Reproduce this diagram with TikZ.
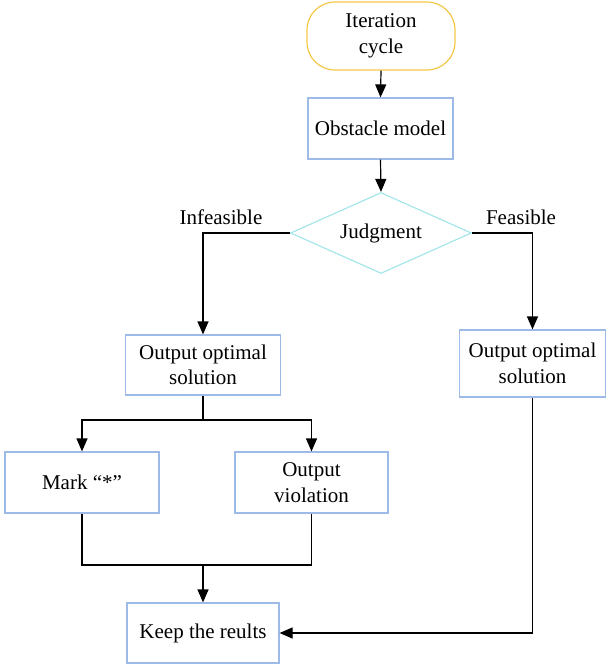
\documentclass[tikz,border=0pt]{standalone}
\usepackage{fontspec}
\setmainfont{Liberation Serif}
\usetikzlibrary{shapes.geometric,arrows.meta}
\definecolor{boxblue}{HTML}{9DBBE6}
\definecolor{diacyan}{HTML}{A6E6EA}
\definecolor{pillor}{HTML}{F4C646}
\tikzset{
  every node/.style={font=\fontsize{21}{25.5}\selectfont, align=center, inner sep=0pt},
  boxnode/.style={draw=boxblue, line width=1.2pt, rectangle},
  arr/.style={-{Triangle[length=13pt,width=11pt]}, line width=1.2pt, black},
  ln/.style={line width=1.2pt, black},
}
\begin{document}
\begin{tikzpicture}[x=1pt,y=-1pt]
\useasboundingbox (0,0) rectangle (607,667);
\node[draw=pillor, line width=1.2pt, rounded corners=28pt, minimum width=148pt, minimum height=68pt] (iter) at (381,36) {Iteration\\cycle};
\node[boxnode, minimum width=145pt, minimum height=61pt] (obst) at (380.5,128.5) {Obstacle model};
\node[draw=diacyan, line width=1.2pt, diamond, aspect=2.2, minimum width=181pt, minimum height=81pt] (judge) at (381,233) {Judgment};
\node (inf) at (221,217) {Infeasible};
\node (fea) at (521,217) {Feasible};
\node[boxnode, minimum width=155pt, minimum height=60pt] (outL) at (203,365) {Output optimal\\solution};
\node[boxnode, minimum width=146pt, minimum height=67pt] (outR) at (532.5,363.5) {Output optimal\\solution};
\node[boxnode, minimum width=154pt, minimum height=61pt] (mark) at (82,482.5) {Mark “*”};
\node[boxnode, minimum width=153pt, minimum height=61pt] (viol) at (311.5,482.5) {Output\\violation};
\node[boxnode, minimum width=152pt, minimum height=60pt] (keep) at (203,633) {Keep the reults};
\coordinate (split) at (203,420);
\coordinate (join) at (203,565);
\draw[arr] (iter.south) -- (obst.north);
\draw[arr] (obst.south) -- (judge.north);
\draw[arr] (judge.west) -| (outL.north);
\draw[arr] (judge.east) -| (outR.north);
\draw[ln] (outL.south) -- (split);
\draw[arr] (split) -| (mark.north);
\draw[arr] (split) -| (viol.north);
\draw[ln] (mark.south) |- (join);
\draw[ln] (viol.south) |- (join);
\draw[arr] (join) -- (keep.north);
\draw[arr] (outR.south) |- (keep.east);
\end{tikzpicture}
\end{document}
